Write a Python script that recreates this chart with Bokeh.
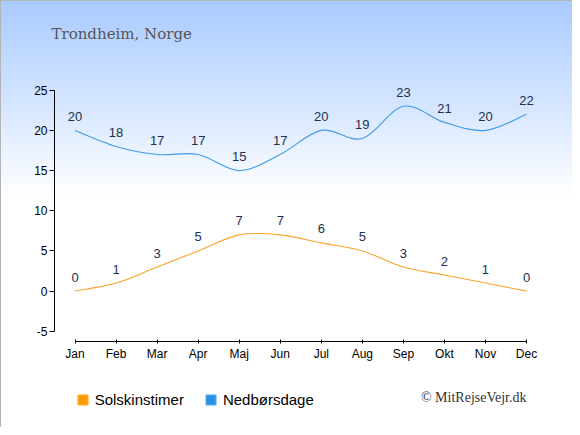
from bokeh.plotting import figure
from bokeh.layouts import column
from bokeh.models import Label, Legend, LegendItem, FixedTicker, Range1d
from bokeh.embed import file_html
from bokeh.resources import INLINE
from bokeh.core.properties import value

months = ["Jan", "Feb", "Mar", "Apr", "Maj", "Jun", "Jul", "Aug", "Sep", "Okt", "Nov", "Dec"]
sun_hours = [0, 1, 3, 5, 7, 7, 6, 5, 3, 2, 1, 0]
rain_days = [20, 18, 17, 17, 15, 17, 20, 19, 23, 21, 20, 22]
y_ticks = [-5, 0, 5, 10, 15, 20, 25]
legend_labels = ["Solskinstimer", "Nedbørsdage"]

ORANGE = "#fba32c"
BLUE = "#3d9be9"
LABEL_COLOR = "#22304e"
W = 572
NAN = float("nan")


def strip(height):
    f = figure(width=W, height=height, min_border=0, x_axis_location=None,
               y_axis_location=None, x_range=Range1d(0, 1), y_range=Range1d(0, 1),
               output_backend="svg", toolbar_location=None)
    f.frame_align = False
    f.background_fill_color = None
    f.border_fill_color = None
    f.outline_line_color = None
    f.grid.visible = False
    return f


# ---- title strip
top = strip(55)
top.add_layout(Label(x=51, y=22, x_units="screen", y_units="screen",
                     text="Trondheim, Norge", text_font="DejaVu Serif",
                     text_font_size="15px", text_color="#555555",
                     text_baseline="middle"))

# ---- main chart
p = figure(frame_width=W - 54, frame_height=286,
           min_border_left=54, min_border_right=0,
           min_border_top=0, min_border_bottom=34,
           x_range=Range1d(-0.5, 12.12), y_range=Range1d(-6.27, 29.32),
           output_backend="svg", toolbar_location=None)
p.frame_align = False
p.background_fill_color = None
p.border_fill_color = None
p.outline_line_color = None
p.grid.visible = False

idx = list(range(len(months)))

p.xaxis.ticker = FixedTicker(ticks=idx)
p.xaxis.major_label_overrides = {i: m for i, m in enumerate(months)}
p.xaxis.bounds = (0, 11)
p.xaxis.minor_tick_line_color = None
p.xaxis.major_tick_in = 2
p.xaxis.major_tick_out = 2
p.xaxis.major_label_standoff = 3
p.yaxis.ticker = FixedTicker(ticks=y_ticks)
p.yaxis.major_label_overrides = {t: str(t) for t in y_ticks}
p.yaxis.bounds = (-5, 25)
p.yaxis.minor_tick_line_color = None
p.yaxis.major_tick_in = 0
p.yaxis.major_tick_out = 5
p.yaxis.major_label_standoff = 2
for ax in (p.xaxis, p.yaxis):
    ax.axis_line_color = "black"
    ax.major_tick_line_color = "black"
    ax.major_label_text_font = "Liberation Sans"
    ax.major_label_text_font_size = "12px"
    ax.major_label_text_color = "black"


def smooth(xs, ys, color):
    n = len(xs)
    x0, y0, x1, y1, cx0, cy0, cx1, cy1 = [], [], [], [], [], [], [], []
    for i in range(n - 1):
        xa, ya = xs[max(i - 1, 0)], ys[max(i - 1, 0)]
        xb, yb = xs[i], ys[i]
        xc, yc = xs[i + 1], ys[i + 1]
        xd, yd = xs[min(i + 2, n - 1)], ys[min(i + 2, n - 1)]
        x0.append(xb); y0.append(yb); x1.append(xc); y1.append(yc)
        cx0.append(xb + (xc - xa) / 6); cy0.append(yb + (yc - ya) / 6)
        cx1.append(xc - (xd - xb) / 6); cy1.append(yc - (yd - yb) / 6)
    p.bezier(x0=x0, y0=y0, x1=x1, y1=y1, cx0=cx0, cy0=cy0, cx1=cx1, cy1=cy1,
             line_color=color, line_width=1.1)


smooth(idx, sun_hours, ORANGE)
smooth(idx, rain_days, BLUE)

for vals in (sun_hours, rain_days):
    p.text(x=idx, y=vals, text=[str(v) for v in vals], text_align="center",
           text_baseline="middle", y_offset=-14,
           text_font=value("Liberation Sans"), text_font_size="13px",
           text_color=LABEL_COLOR)

# ---- legend strip (swatch renderers hold no visible data)
bot = strip(52)
r_sun = bot.quad(left=[NAN], right=[NAN], top=[NAN], bottom=[NAN],
                 fill_color="#ff9900", line_color="#ffc470")
r_rain = bot.quad(left=[NAN], right=[NAN], top=[NAN], bottom=[NAN],
                  fill_color="#2b8fe8", line_color="#8cc4f2")
legend = Legend(items=[LegendItem(label=legend_labels[0], renderers=[r_sun]),
                       LegendItem(label=legend_labels[1], renderers=[r_rain])],
                orientation="horizontal", location=(75.7, 19),
                glyph_width=13, glyph_height=13, label_standoff=6, spacing=20,
                padding=0, margin=0, border_line_color=None,
                background_fill_color=None, background_fill_alpha=0,
                label_text_font="Liberation Sans", label_text_font_size="15px",
                label_text_color="black")
bot.add_layout(legend, "center")
bot.add_layout(Label(x=526, y=30, x_units="screen", y_units="screen",
                     text="© MitRejseVejr.dk", text_font="Liberation Serif",
                     text_font_size="14px", text_color="#333333",
                     text_align="right", text_baseline="middle"))

page = column(top, p, bot, spacing=0)
page.styles = {"background-image": "linear-gradient(to bottom, #a8caff 0%, #d6e6ff 25%, #ffffff 46%, #ffffff 100%)",
               "box-shadow": "inset 1px 1px 0 0 #b4b4b4"}

open("out.html", "w").write(file_html(page, INLINE))
